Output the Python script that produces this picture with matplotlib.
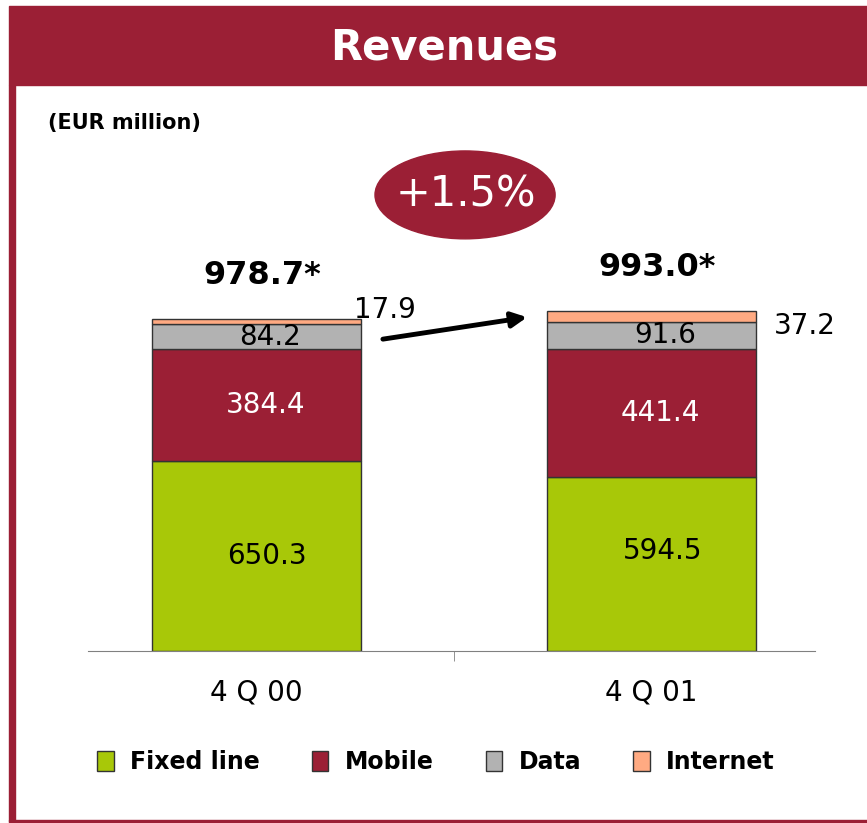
import matplotlib.pyplot as plt
from matplotlib.patches import Rectangle, Ellipse

quarters = ["4 Q 00", "4 Q 01"]
fixed_line = [650.3, 594.5]
mobile = [384.4, 441.4]
data_rev = [84.2, 91.6]
internet = [17.9, 37.2]
totals = ["978.7*", "993.0*"]
growth = "+1.5%"

RED = "#9B1F35"
GREEN = "#A8C808"
GREY = "#B2B2B2"
SALMON = "#FFAA82"

fig = plt.figure(figsize=(8.67, 8.23), dpi=100)
W, H = 867, 823

# frame: header band, left strip, bottom line
fig.patches.append(Rectangle((9 / W, 1 - 85 / H), 858 / W, 79 / H, transform=fig.transFigure,
                             color=RED, zorder=0))
fig.patches.append(Rectangle((9 / W, 1 - 821 / H), 6 / W, 736 / H, transform=fig.transFigure,
                             color=RED, zorder=0))
fig.patches.append(Rectangle((9 / W, 1 - 823 / H), 858 / W, 3 / H, transform=fig.transFigure,
                             color=RED, zorder=0))
fig.text(444 / W, 1 - 47 / H, "Revenues", color="white", fontsize=30, fontweight="bold",
         ha="center", va="center")
fig.text(48 / W, 1 - 123 / H, "(EUR million)", fontsize=15, fontweight="bold",
         ha="left", va="center")

ax = fig.add_axes([88 / W, 1 - 651 / H, 727 / W, 551 / H])
x = [0, 1]
width = 0.53
ec = "#333333"
b1 = ax.bar(x, fixed_line, width, color=GREEN, edgecolor=ec, linewidth=1, label="Fixed line")
bottom2 = [a for a in fixed_line]
b2 = ax.bar(x, mobile, width, bottom=bottom2, color=RED, edgecolor=ec, linewidth=1, label="Mobile")
bottom3 = [a + b for a, b in zip(fixed_line, mobile)]
b3 = ax.bar(x, data_rev, width, bottom=bottom3, color=GREY, edgecolor=ec, linewidth=1, label="Data")
bottom4 = [a + b for a, b in zip(bottom3, data_rev)]
b4 = ax.bar(x, internet, width, bottom=bottom4, color=SALMON, edgecolor=ec, linewidth=1, label="Internet")

ax.set_xlim(-0.4266, 1.414)
ax.set_ylim(0, 551 / 0.292)

# small vertical nudges for the in-bar labels (label placement only)
fixed_nudge = [0, 45]
for i in x:
    ax.text(i + 0.027, fixed_line[i] / 2 + fixed_nudge[i], f"{fixed_line[i]:.1f}", fontsize=20,
            ha="center", va="center", color="black")
    ax.text(i + 0.022, bottom2[i] + mobile[i] / 2, f"{mobile[i]:.1f}", fontsize=20,
            ha="center", va="center", color="white")
    ax.text(i + 0.035, bottom3[i] + data_rev[i] / 2, f"{data_rev[i]:.1f}", fontsize=20,
            ha="center", va="center", color="black")
    top = bottom4[i] + internet[i]
    ax.text(i + 0.015, top + 150, totals[i], fontsize=23, fontweight="bold",
            ha="center", va="center")

ax.text(0.325, bottom4[0] + internet[0] + 30, f"{internet[0]:.1f}", fontsize=20,
        ha="center", va="center")
ax.text(1.389, bottom4[1] + internet[1] - 50, f"{internet[1]:.1f}", fontsize=20,
        ha="center", va="center")

ax.add_patch(Ellipse((0.528, 1562), 0.456, 301, color=RED, clip_on=False))
ax.text(0.531, 1565, growth, color="white", fontsize=30, ha="center", va="center")

ax.annotate("", xy=(0.685, 1143), xytext=(0.32, 1068),
            arrowprops=dict(arrowstyle="-|>,head_length=0.9,head_width=0.45",
                            color="black", lw=3.5, shrinkA=0, shrinkB=0))

for s in ["top", "right", "left"]:
    ax.spines[s].set_visible(False)
ax.spines["bottom"].set_color("#808080")
ax.set_yticks([])
ax.set_xticks(x)
ax.set_xticklabels(quarters, fontsize=20)
ax.tick_params(axis="x", length=0, pad=20)
ax.set_xticks([0.5], minor=True)
ax.tick_params(axis="x", which="minor", length=7, color="#808080", direction="out")

fig.legend(handles=[b1, b2, b3, b4], loc="center", bbox_to_anchor=(436 / W, 1 - 762 / H),
           ncol=4, frameon=False, prop={"size": 17, "weight": "bold"},
           handlelength=0.7, handleheight=0.9, handletextpad=0.7, columnspacing=2.2)

fig.savefig("out.png", dpi=100)
